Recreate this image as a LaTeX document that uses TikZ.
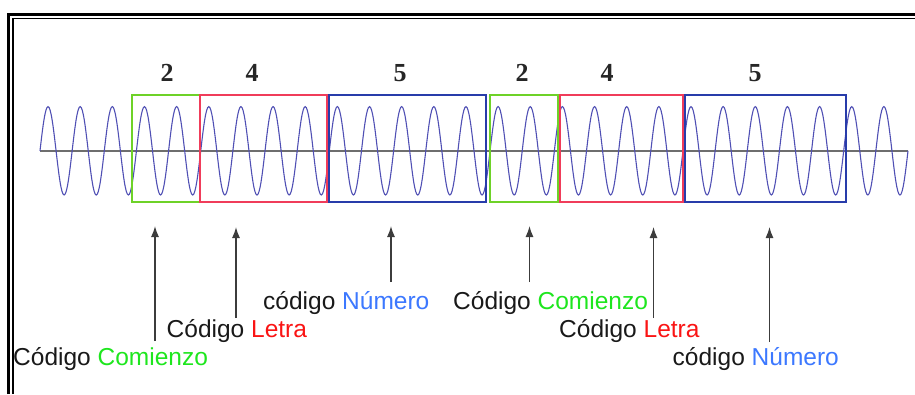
\documentclass[tikz,border=0pt]{standalone}
\usepackage{fontspec}
\setmainfont{Liberation Sans}
\newfontfamily\digitfont{Liberation Serif}
\usetikzlibrary{arrows.meta}
\definecolor{wavec}{RGB}{80,80,180}
\definecolor{axisc}{RGB}{110,110,110}
\definecolor{gboxc}{RGB}{110,210,40}
\definecolor{rboxc}{RGB}{240,60,90}
\definecolor{bboxc}{RGB}{40,60,170}
\definecolor{cgreen}{RGB}{30,230,30}
\definecolor{cred}{RGB}{250,20,20}
\definecolor{cblue}{RGB}{60,120,255}
\definecolor{ctext}{RGB}{25,25,25}
\definecolor{arrc}{RGB}{60,60,60}
\tikzset{
  wave/.style={draw=wavec, line width=1.1pt},
  axisline/.style={draw=axisc, line width=1.4pt},
  segbox/.style={draw, line width=2.2pt, inner sep=0pt, minimum height=107pt, fill=none},
  gseg/.style={segbox, draw=gboxc},
  rseg/.style={segbox, draw=rboxc},
  bseg/.style={segbox, draw=bboxc},
  digit/.style={font=\digitfont\bfseries\fontsize{26}{30}\selectfont, text=black!85, inner sep=0pt, anchor=base},
  lbl/.style={font=\fontsize{24.5}{28}\selectfont, text=ctext, inner sep=0pt, anchor=base west},
  arr/.style={draw=arrc, line width=1.3pt, -{Latex[length=11pt,width=8pt]}},
  frameouter/.style={draw=black, line width=3.3pt},
  frameinner/.style={draw=black, line width=1.8pt}
}
\begin{document}
\begin{tikzpicture}[x=1pt,y=-1pt]
\useasboundingbox (0,0) rectangle (915,394);
% frame (top and left of a double border)
\coordinate (fo1) at (8.3,394);
\coordinate (fo2) at (8.3,14.5);
\coordinate (fo3) at (915,14.5);
\coordinate (fi1) at (12.8,394);
\coordinate (fi2) at (12.8,18.4);
\coordinate (fi3) at (915,18.4);
\draw[frameouter] (fo1) -- (fo2) -- (fo3);
\draw[frameinner] (fi1) -- (fi2) -- (fi3);
% axis
\coordinate (ax1) at (40,150.8);
\coordinate (ax2) at (908,150.8);
\draw[axisline] (ax1) -- (ax2);
% wave: 27 periods
\def\P{32.148}
\draw[wave] (40,150.8) \foreach \k in {0,...,26} {
  sin ({40+\k*\P+0.25*\P},106.6) cos ({40+\k*\P+0.5*\P},150.8)
  sin ({40+\k*\P+0.75*\P},195.0) cos ({40+(\k+1)*\P},150.8) };
% segment boxes
\node[gseg, minimum width=68pt]    (g1) at (166,148.5) {};
\node[rseg, minimum width=127pt]   (r1) at (263.5,148.5) {};
\node[bseg, minimum width=157pt]   (b1) at (407.5,148.5) {};
\node[gseg, minimum width=68pt]    (g2) at (524,148.5) {};
\node[rseg, minimum width=123.5pt] (r2) at (621.75,148.5) {};
\node[bseg, minimum width=161pt]   (b2) at (765.5,148.5) {};
% digits
\node[digit] (d1) at (167,81) {2};
\node[digit] (d2) at (252,81) {4};
\node[digit] (d3) at (400,81) {5};
\node[digit] (d4) at (522,81) {2};
\node[digit] (d5) at (607,81) {4};
\node[digit] (d6) at (755,81) {5};
% labels
\node[lbl] (l1) at (13,365.5)  {Código \textcolor{cgreen}{Comienzo}};
\node[lbl] (l2) at (166.5,337.5) {Código \textcolor{cred}{Letra}};
\node[lbl] (l3) at (263,309.5) {código \textcolor{cblue}{Número}};
\node[lbl] (l4) at (453,309.5) {Código \textcolor{cgreen}{Comienzo}};
\node[lbl] (l5) at (559,337.5) {Código \textcolor{cred}{Letra}};
\node[lbl] (l6) at (672.5,365.5) {código \textcolor{cblue}{Número}};
% arrows
\coordinate (s1) at (155,341);   \coordinate (t1) at (155,226);
\coordinate (s2) at (236,318);   \coordinate (t2) at (236,227);
\coordinate (s3) at (391,282);   \coordinate (t3) at (391,226);
\coordinate (s4) at (529.5,282); \coordinate (t4) at (529.5,226);
\coordinate (s5) at (653.5,318); \coordinate (t5) at (653.5,227);
\coordinate (s6) at (769.5,342); \coordinate (t6) at (769.5,227);
\foreach \i in {1,...,6} { \draw[arr] (s\i) -- (t\i); }
\end{tikzpicture}
\end{document}
